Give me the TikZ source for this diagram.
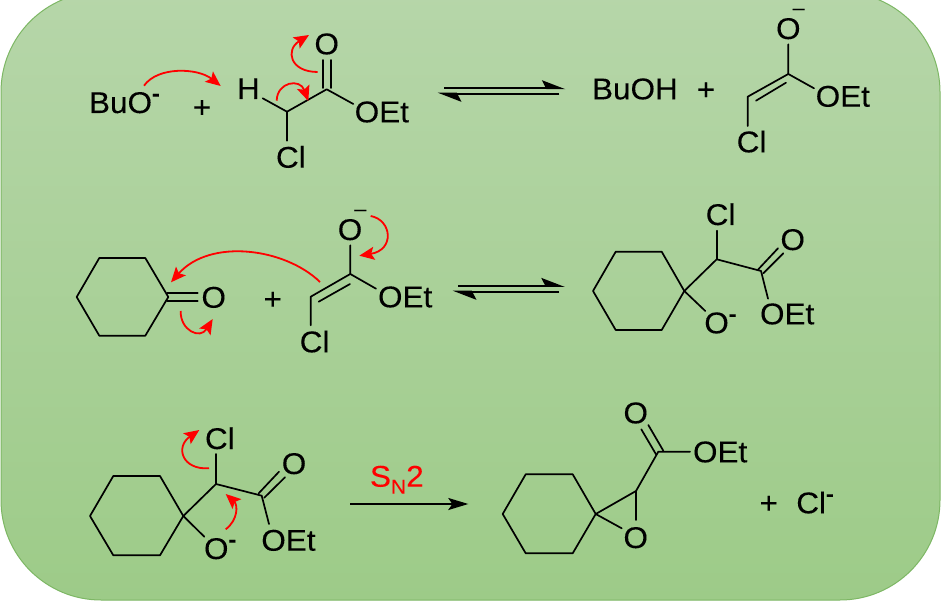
\documentclass[tikz,border=0pt]{standalone}
\usepackage{fontspec}
\setmainfont[FakeStretch=1.05,FakeBold=0.12]{Liberation Sans}
\usetikzlibrary{arrows.meta}
\definecolor{paneltop}{RGB}{182,214,169}
\definecolor{panelbot}{RGB}{157,203,136}
\definecolor{panelline}{RGB}{125,183,100}
\newcommand{\chgsup}{\raisebox{12pt}{\fontsize{22}{22}\bfseries\selectfont -}}
\newcommand{\chgbar}{\rlap{\hspace{-8pt}\raisebox{25pt}{\scalebox{1.15}[1]{\fontsize{18}{18}\selectfont –}}}}
\tikzset{
  atom/.style={anchor=base west,inner sep=0pt,outer sep=0pt,xshift=-1pt,text=black,font=\fontsize{30}{30}\selectfont},
  sign/.style={anchor=base,inner sep=0pt,outer sep=0pt,text=black,font=\fontsize{30}{30}\selectfont},
  bond/.style={draw=black,line width=1.7pt,line cap=round,line join=round},
  redarrow/.style={draw=red,line width=1.8pt,-{Stealth[length=15pt,width=13pt,inset=3pt]}},
  eqarrow/.style={draw=black,line width=1.9pt,-{Stealth[length=21pt,width=16pt,inset=4pt,harpoon]}},
  plainarrow/.style={draw=black,line width=1.7pt,-{Stealth[length=20pt,width=12pt,inset=4pt]}},
}
\begin{document}
\begin{tikzpicture}[x=1pt,y=-1pt]
\useasboundingbox (0,0) rectangle (950,601);
\fill[white] (0,0) rectangle (950,601);
\begin{scope}
\clip (0,0) rectangle (950,601);
\path[draw=panelline,line width=1pt,top color=paneltop,bottom color=panelbot,rounded corners=100pt] (1,-8) rectangle (940,600);
\end{scope}

% ---------- Row 1
\node[atom] (buo) at (90,113) {BuO\chgsup};
\node[sign] (plusa) at (202,117.5) {+};
\node[atom] (ha) at (238,99) {H};
\node[atom] (cla) at (277,167.7) {Cl};
\node[sign] (oa) at (326.7,54.3) {O};
\node[atom] (oeta) at (355.7,122.3) {OEt};
\coordinate (ahb) at (262.7,98.3);
\coordinate (ac1) at (287,111.7);
\coordinate (acl) at (287,140.7);
\coordinate (ac2) at (326.7,89.3);
\coordinate (ao1a) at (323.1,88); \coordinate (ao1b) at (323.1,60);
\coordinate (ao2a) at (330.7,88); \coordinate (ao2b) at (330.7,60);
\coordinate (aoe) at (353.3,104);
\draw[bond] (ahb) -- (ac1) -- (ac2) -- (aoe);
\draw[bond] (ac1) -- (acl);
\draw[bond] (ao1a) -- (ao1b);
\draw[bond] (ao2a) -- (ao2b);
\coordinate (ra1) at (144,85.7); \coordinate (ra2) at (220.7,86);
\coordinate (rb1) at (317.7,72); \coordinate (rb2) at (309,35);
\coordinate (rc1) at (276.7,100.7); \coordinate (rc2) at (308.3,101);
\draw[redarrow] (ra1) .. controls (158,66) and (198,68) .. (ra2);
\draw[redarrow] (rb1) .. controls (290,72) and (285,50) .. (rb2);
\draw[redarrow] (rc1) .. controls (277,82) and (300,78) .. (rc2);
\coordinate (eqa1) at (444,88.3); \coordinate (eqa2) at (565.5,88.3);
\coordinate (eqa3) at (559.3,93.7); \coordinate (eqa4) at (437.8,93.7);
\draw[eqarrow] (eqa1) -- (eqa2);
\draw[eqarrow] (eqa3) -- (eqa4);
\node[atom] (buoh) at (593,99.3) {BuOH};
\node[sign] (plusb) at (706,99.8) {+};
\node[sign] (ob) at (788.3,39) {O\chgbar};
\node[atom] (oetb) at (816.7,106.7) {OEt};
\node[atom] (clb) at (737.7,152.3) {Cl};
\coordinate (bo) at (788.3,44.3);
\coordinate (bc) at (788.3,74);
\coordinate (bch) at (747.7,96.7);
\coordinate (bi1) at (786,82.7); \coordinate (bi2) at (756,100.7);
\coordinate (boe) at (814,88.3);
\coordinate (bcl) at (747.7,126);
\draw[bond] (bo) -- (bc) -- (bch) -- (bcl);
\draw[bond] (bc) -- (boe);
\draw[bond] (bi1) -- (bi2);

% ---------- Row 2
\coordinate (h1) at (76.7,297); \coordinate (h2) at (99.3,258);
\coordinate (h3) at (145.3,258); \coordinate (h4) at (168.3,297);
\coordinate (h5) at (145.3,335.7); \coordinate (h6) at (99.3,335.7);
\draw[bond] (h1) -- (h2) -- (h3) -- (h4) -- (h5) -- (h6) -- cycle;
\coordinate (co1a) at (167,293); \coordinate (co1b) at (197.7,293);
\coordinate (co2a) at (167,301); \coordinate (co2b) at (197.7,301);
\draw[bond] (co1a) -- (co1b);
\draw[bond] (co2a) -- (co2b);
\node[sign] (oc) at (213.7,307.7) {O};
\node[sign] (plusc) at (272.7,309.2) {+};
\node[sign] (od) at (350,240) {O\chgbar};
\node[atom] (oetd) at (379,307.3) {OEt};
\node[atom] (cld) at (300.7,352.3) {Cl};
\coordinate (do) at (350.3,245.3);
\coordinate (dc) at (350.3,274);
\coordinate (dch) at (310.7,296.7);
\coordinate (di1) at (350,284); \coordinate (di2) at (318.7,301.7);
\coordinate (doe) at (376,288.7);
\coordinate (dcl) at (310.7,325.3);
\draw[bond] (do) -- (dc) -- (dch) -- (dcl);
\draw[bond] (dc) -- (doe);
\draw[bond] (di1) -- (di2);
\coordinate (rd1) at (320,282); \coordinate (rd2) at (171,282.3);
\coordinate (re1) at (370.7,216); \coordinate (re2) at (359.3,255.7);
\coordinate (rf1) at (180.7,311); \coordinate (rf2) at (212.7,319);
\draw[redarrow] (rd1) .. controls (285,248) and (210,238) .. (rd2);
\draw[redarrow] (re1) .. controls (392,220) and (395,250) .. (re2);
\draw[redarrow] (rf1) .. controls (180,330) and (200,340) .. (rf2);
\coordinate (eqb1) at (458.3,286); \coordinate (eqb2) at (564.9,286);
\coordinate (eqb3) at (559,291.7); \coordinate (eqb4) at (452.8,291.7);
\draw[eqarrow] (eqb1) -- (eqb2);
\draw[eqarrow] (eqb3) -- (eqb4);
\coordinate (p1) at (593,291); \coordinate (p2) at (615.7,251.7);
\coordinate (p3) at (661.7,251.7); \coordinate (p4) at (684.3,291);
\coordinate (p5) at (661.7,330); \coordinate (p6) at (615.7,330);
\draw[bond] (p1) -- (p2) -- (p3) -- (p4) -- (p5) -- (p6) -- cycle;
\coordinate (pch) at (716.7,259.3);
\coordinate (pcl) at (716.7,230.7);
\coordinate (pc) at (761,271);
\coordinate (po1a) at (758.3,269.3); \coordinate (po1b) at (778,248.3);
\coordinate (po2a) at (763.3,273.3); \coordinate (po2b) at (783.3,253.3);
\coordinate (poe) at (768,298.7);
\coordinate (pom) at (705.3,311);
\draw[bond] (p4) -- (pch) -- (pc) -- (poe);
\draw[bond] (pch) -- (pcl);
\draw[bond] (po1a) -- (po1b);
\draw[bond] (po2a) -- (po2b);
\draw[bond] (p4) -- (pom);
\node[atom] (clp) at (706.7,225) {Cl};
\node[sign] (op) at (792.7,250) {O};
\node[atom] (oetp) at (761,324.3) {OEt};
\node[atom] (omp) at (705.3,333.3) {O\chgsup};

% ---------- Row 3
\coordinate (q1) at (90,516); \coordinate (q2) at (113.3,476);
\coordinate (q3) at (160,476); \coordinate (q4) at (183.3,516);
\coordinate (q5) at (160,555.3); \coordinate (q6) at (113.3,555.3);
\draw[bond] (q1) -- (q2) -- (q3) -- (q4) -- (q5) -- (q6) -- cycle;
\coordinate (qch) at (216,484);
\coordinate (qcl) at (216,454);
\coordinate (qc) at (261.7,495.7);
\coordinate (qo1a) at (258.7,493.3); \coordinate (qo1b) at (279,471.7);
\coordinate (qo2a) at (264.3,497.7); \coordinate (qo2b) at (285,477.3);
\coordinate (qoe) at (269,524);
\coordinate (qom) at (204.3,536.7);
\draw[bond] (q4) -- (qch) -- (qc) -- (qoe);
\draw[bond] (qch) -- (qcl);
\draw[bond] (qo1a) -- (qo1b);
\draw[bond] (qo2a) -- (qo2b);
\draw[bond] (q4) -- (qom);
\node[atom] (clq) at (206,449) {Cl};
\node[sign] (oq) at (294,474) {O};
\node[atom] (oetq) at (262.3,550.7) {OEt};
\node[atom] (omq) at (205,559) {O\chgsup};
\coordinate (rg1) at (209,468.3); \coordinate (rg2) at (199.3,430);
\coordinate (rh1) at (225.7,529.3); \coordinate (rh2) at (225.7,494);
\draw[redarrow] (rg1) .. controls (182,470) and (175,447) .. (rg2);
\draw[redarrow] (rh1) .. controls (238,520) and (238,505) .. (rh2);
\node[atom,text=red,xshift=0pt] (sn) at (371,486.7) {S\raisebox{-7pt}{\fontsize{20}{20}\selectfont N}2};
\coordinate (ar1) at (350,504); \coordinate (ar2) at (468.3,504);
\draw[plainarrow] (ar1) -- (ar2);
\coordinate (s1) at (502.7,514); \coordinate (s2) at (525.7,474.3);
\coordinate (s3) at (572.7,474.3); \coordinate (s4) at (595.7,514);
\coordinate (s5) at (572.7,553.3); \coordinate (s6) at (525.7,553.3);
\draw[bond] (s1) -- (s2) -- (s3) -- (s4) -- (s5) -- (s6) -- cycle;
\coordinate (sch) at (636,491);
\coordinate (so) at (636,520);
\coordinate (sob) at (621.7,528.3);
\coordinate (sc) at (658.3,451.7);
\coordinate (so1a) at (641.3,429.3); \coordinate (so1b) at (656,454.3);
\coordinate (so2a) at (648.3,425); \coordinate (so2b) at (663.3,450.7);
\coordinate (soe) at (690,451.7);
\draw[bond] (s4) -- (sch) -- (so);
\draw[bond] (s4) -- (sob);
\draw[bond] (sch) -- (sc) -- (soe);
\draw[bond] (so1a) -- (so1b);
\draw[bond] (so2a) -- (so2b);
\node[sign] (oep) at (635.7,548) {O};
\node[sign] (oke) at (635.7,423.3) {O};
\node[atom] (oets) at (694,462.3) {OEt};
\node[sign] (plusd) at (768.7,513.2) {+};
\node[atom] (clm) at (797.3,513.3) {Cl\chgsup};
\end{tikzpicture}
\end{document}
